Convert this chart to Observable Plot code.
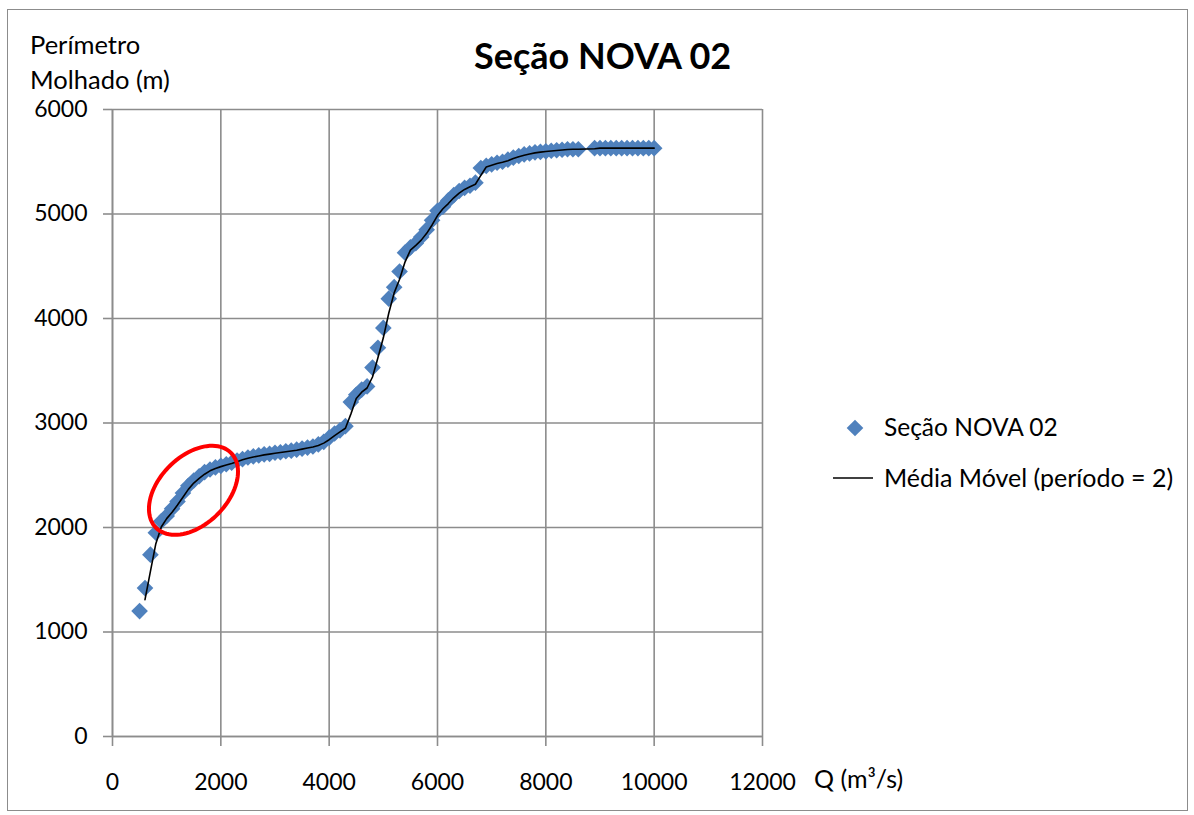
<!DOCTYPE html>
<html>
<head>
<meta charset="utf-8">
<script src="https://cdn.jsdelivr.net/npm/d3@7"></script>
<script src="https://cdn.jsdelivr.net/npm/@observablehq/plot@0.6"></script>
<style>
  html, body { margin: 0; padding: 0; background: #fff; }
  #chart { position: relative; width: 1194px; height: 815px; font-family: Lato, "Open Sans", sans-serif; color: #000; }
  #chart svg.plot { position: absolute; left: 0; top: 0; }
  .frame { position: absolute; left: 7px; top: 9px; width: 1181px; height: 802px; border: 1px solid #8c8c8c; box-sizing: border-box; }
  .ov { position: absolute; white-space: nowrap; line-height: 1; }
</style>
</head>
<body>
<div id="chart">
  <div class="frame"></div>
</div>
<script>
// ---- data ----
const vazao = [500,600,700,800,900,1000,1100,1200,1300,1400,1500,1600,1700,1800,1900,2000,
  2100,2200,2300,2400,2500,2600,2700,2800,2900,3000,3100,3200,3300,3400,3500,3600,3700,3800,3900,4000,
  4100,4200,4300,4400,4500,4600,4700,4800,4900,5000,5100,5200,5300,5400,5500,5600,5700,5800,5900,6000,
  6100,6200,6300,6400,6500,6600,6700,6800,6900,7000,7100,7200,7300,7400,7500,7600,7700,7800,7900,8000,
  8100,8200,8300,8400,8500,8600,8900,9000,9100,9200,9300,9400,9500,9600,9700,9800,9900,10000];
const perimetro = [1200,1420,1740,1950,2060,2110,2180,2250,2330,2400,2450,2490,2530,2555,2575,2590,
  2605,2620,2640,2655,2670,2680,2690,2700,2705,2715,2720,2730,2735,2745,2755,2765,2775,2795,2820,2860,
  2900,2930,2970,3200,3270,3320,3350,3530,3720,3910,4190,4300,4450,4630,4680,4720,4780,4850,4940,5030,
  5070,5130,5180,5220,5250,5270,5300,5440,5460,5475,5490,5500,5520,5540,5555,5570,5580,5590,5595,5600,
  5605,5610,5615,5620,5620,5620,5630,5630,5630,5630,5630,5630,5630,5630,5630,5630,5630,5630];
const xTicks = [0,2000,4000,6000,8000,10000,12000];
const yTicks = [0,1000,2000,3000,4000,5000,6000];
const titleText = "Seção NOVA 02";
const seriesName = "Seção NOVA 02";
const trendName = "Média Móvel (período = 2)";
const yLabel = ["Perímetro", "Molhado (m)"];
const xLabel = "Q (m³/s)";
// highlighted region (annotation), centre in data units
const highlight = [{x: 1495, y: 2356}];

const data = vazao.map((q, i) => ({q, p: perimetro[i]}));

const blue = "#4F81BD";
const gridColor = "#8c8c8c";

// rotated ellipse symbol for the annotation
const ellipseSymbol = {
  draw(context) {
    const a = 53, b = 34, th = -45 * Math.PI / 180;
    const n = 90;
    for (let i = 0; i <= n; i++) {
      const t = (i / n) * 2 * Math.PI;
      const ex = a * Math.cos(t), ey = b * Math.sin(t);
      const px = ex * Math.cos(th) - ey * Math.sin(th);
      const py = ex * Math.sin(th) + ey * Math.cos(th);
      if (i === 0) context.moveTo(px, py); else context.lineTo(px, py);
    }
    context.closePath();
  }
};

const plot = Plot.plot({
  width: 1194,
  height: 815,
  marginLeft: 112,
  marginRight: 432,
  marginTop: 109,
  marginBottom: 79,
  style: {fontFamily: "Lato, 'Open Sans', sans-serif", fontSize: "23px", color: "#000", background: "transparent"},
  x: {domain: [0, 12000]},
  y: {domain: [0, 6000]},
  marks: [
    Plot.gridX(xTicks, {stroke: gridColor, strokeOpacity: 1, strokeWidth: 1.6}),
    Plot.gridY(yTicks, {stroke: gridColor, strokeOpacity: 1, strokeWidth: 1.6}),
    Plot.axisX({ticks: xTicks, tickSize: 10, tickPadding: 27, stroke: gridColor, strokeWidth: 1.6, fill: "#000", label: null, tickFormat: d => String(d)}),
    Plot.axisY({ticks: yTicks, tickSize: 9, tickPadding: 16, stroke: gridColor, strokeWidth: 1.6, fill: "#000", label: null, tickFormat: d => String(d)}),
    Plot.ruleX([0], {stroke: gridColor, strokeWidth: 1.6}),
    Plot.ruleY([0], {stroke: gridColor, strokeWidth: 1.6}),
    Plot.dot(data, {x: "q", y: "p", symbol: "diamond2", r: 7.5, fill: blue, stroke: "none"}),
    Plot.line(data, Plot.windowY({k: 2, anchor: "end", strict: true}, {x: "q", y: "p", stroke: "#000", strokeWidth: 1.6})),
    Plot.dot(highlight, {x: "x", y: "y", symbol: ellipseSymbol, fill: "none", stroke: "#ff0000", strokeWidth: 4})
  ]
});
plot.classList.add("plot");
const chart = document.getElementById("chart");
chart.appendChild(plot);

function addText(txt, style) {
  const d = document.createElement("div");
  d.className = "ov";
  d.textContent = txt;
  Object.assign(d.style, style);
  chart.appendChild(d);
  return d;
}
addText(titleText, {left: "474px", top: "37px", fontSize: "36px", fontWeight: "bold"});
addText(yLabel[0], {left: "30px", top: "32px", fontSize: "25.5px"});
addText(yLabel[1], {left: "30px", top: "67px", fontSize: "25.5px"});
addText(xLabel, {left: "814px", top: "766px", fontSize: "25px"});

// legend
const leg = document.createElement("div");
leg.style.position = "absolute";
leg.style.left = "0px"; leg.style.top = "0px";
leg.innerHTML = `<svg width="1194" height="815" style="position:absolute;left:0;top:0;overflow:visible">
  <path d="${d3.symbol(d3.symbolDiamond2, Math.PI * 7.5 * 7.5)()}" transform="translate(855,428)" fill="${blue}"/>
  <line x1="833" x2="873" y1="478" y2="478" stroke="#000" stroke-width="1.6"/>
</svg>`;
chart.appendChild(leg);
addText(seriesName, {left: "884px", top: "415px", fontSize: "24.5px"});
addText(trendName, {left: "884px", top: "465px", fontSize: "25px"});
</script>
</body>
</html>
